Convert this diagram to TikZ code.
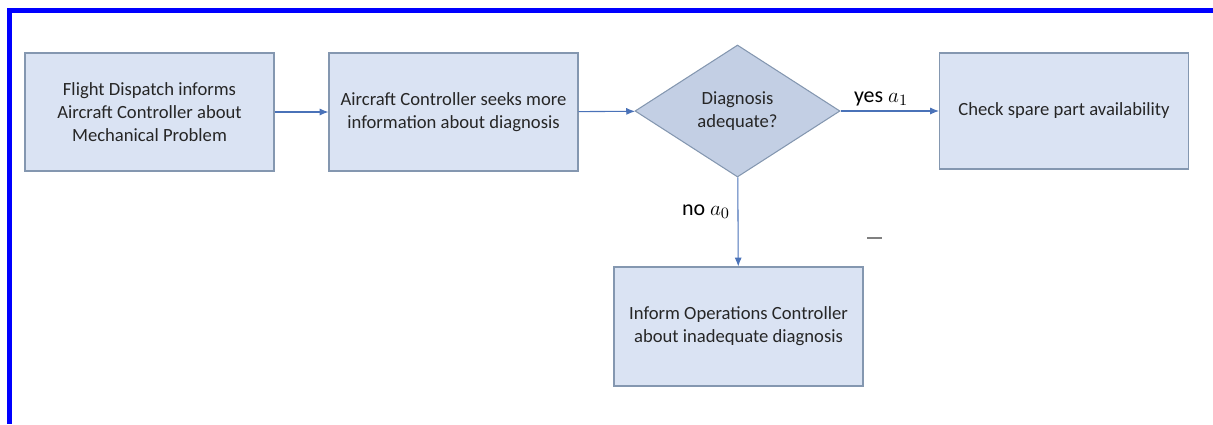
\documentclass[tikz,border=0pt]{standalone}
\usepackage{fontspec}
\setmainfont{Carlito}
\usepackage{tikz}
\usetikzlibrary{arrows.meta,shapes.geometric}

\definecolor{boxfill}{HTML}{DAE3F3}
\definecolor{boxline}{HTML}{8497B0}
\definecolor{diafill}{HTML}{C3CFE4}
\definecolor{arrowcol}{HTML}{4A72B8}

\begin{document}
\begin{tikzpicture}
    [>={Latex[length=5pt,width=4pt]},
      step box/.style={rectangle,draw=boxline,fill=boxfill,line width=0.6pt,
        minimum width=4.98cm,minimum height=2.36cm,align=center,
        font=\fontsize{10.6}{13}\selectfont,text=black!85},
      choice/.style={diamond,draw=boxline,fill=diafill,line width=0.6pt,
        minimum width=4.1cm,minimum height=2.64cm,inner sep=0pt,align=center,
        font=\fontsize{10.6}{13}\selectfont,text=black!85},
      flow/.style={->,draw=arrowcol,line width=0.6pt},
      answer/.style={font=\fontsize{12.5}{14}\selectfont}]
      \useasboundingbox (0,0) rectangle (24.26,-8.48);
      % frame
      \draw[blue,line width=0.1cm] (24.26,-0.21) -- (0.19,-0.21) -- (0.19,-8.48);

      \node[step box] (dispatch) at (2.99,-2.24) {Flight Dispatch informs\\Aircraft Controller about\\Mechanical Problem};
      \node[step box] (seeks) at (9.07,-2.24) {Aircraft Controller seeks more\\information about diagnosis};
      \node[choice] (adequate) at (14.75,-2.22) {Diagnosis\\adequate?};
      \node[step box,minimum height=2.32cm] (spare) at (21.28,-2.22) {Check spare part availability};
      \node[step box,minimum height=2.38cm] (inform) at (14.77,-6.53) {Inform Operations Controller\\about inadequate diagnosis};

      \node[answer] (yes) at (17.62,-1.98) {yes $a_1$};
      \node[answer] (no) at (14.12,-4.24) {no $a_0$};

      \coordinate (dashA) at (17.34,-4.76);
      \coordinate (dashB) at (17.64,-4.76);
      \draw[gray,line width=0.6pt] (dashA) -- (dashB);

      \foreach \from/\to in {dispatch/seeks,seeks/adequate,adequate/spare,adequate/inform}
	\draw[flow] (\from) -- (\to);

    \end{tikzpicture}
\end{document}
